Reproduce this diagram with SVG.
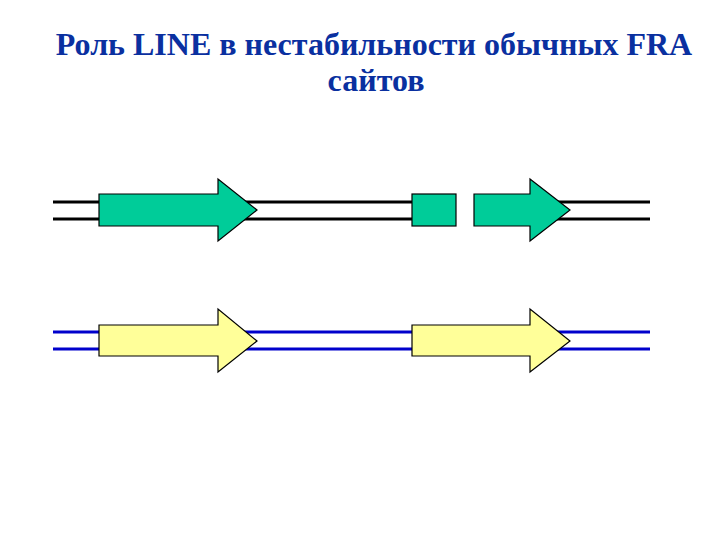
<svg xmlns="http://www.w3.org/2000/svg" width="720" height="540" viewBox="0 0 720 540">
<style>
.title{font-family:"Liberation Serif","Times New Roman",serif;font-weight:bold;font-size:32px;fill:#0a30a0;text-anchor:middle}
.blk{stroke:#000;stroke-width:3;fill:none}
.blu{stroke:#0000cc;stroke-width:3;fill:none}
.g{fill:#00cc99;stroke:#000;stroke-width:1.2}
.y{fill:#ffff99;stroke:#000;stroke-width:1.2}
</style>
<rect width="720" height="540" fill="#fff"/>
<g id="title">
<text class="title" x="374" y="55">Роль LINE в нестабильности обычных FRA</text>
<text class="title" x="376" y="91">сайтов</text>
</g>
<g id="connectors">
<path class="blk" d="M53 202H456M474 202H650M53 219H456M474 219H650"/>
<path class="blu" d="M53 332H650M53 349H650"/>
</g>
<g id="green-arrow-1"><polygon class="g" points="99,194 218,194 218,179 257,210 218,241 218,226 99,226"/></g>
<g id="green-block"><rect class="g" x="412" y="194" width="44" height="32"/></g>
<g id="green-arrow-2"><polygon class="g" points="474,194 530,194 530,179 570,210 530,241 530,226 474,226"/></g>
<g id="yellow-arrow-1"><polygon class="y" points="99,325 218,325 218,309 257,341 218,372 218,356 99,356"/></g>
<g id="yellow-arrow-2"><polygon class="y" points="412,325 530,325 530,309 570,341 530,372 530,356 412,356"/></g>
</svg>
